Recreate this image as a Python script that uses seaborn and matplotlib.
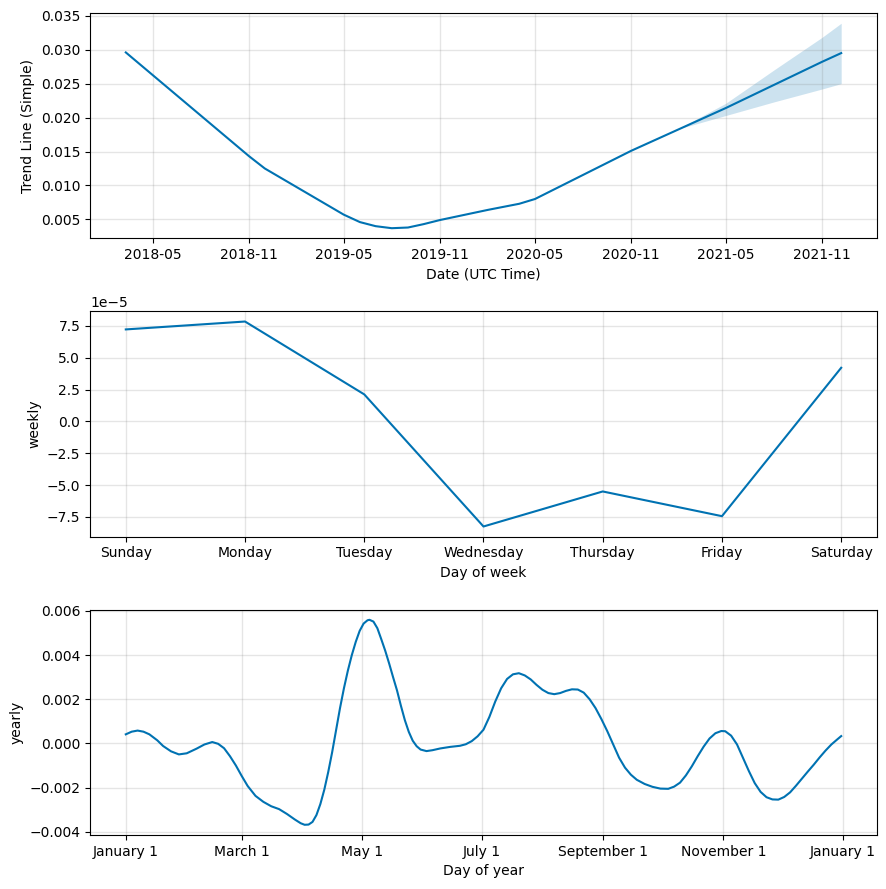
import pandas as pd
import numpy as np
import matplotlib
matplotlib.use("Agg")
import matplotlib.pyplot as plt
import matplotlib.dates as mdates
import seaborn as sns

# trend component
trend_dates = ["2018-03-10", "2018-11-01", "2018-12-01", "2019-05-01", "2019-06-01",
               "2019-07-01", "2019-08-01", "2019-09-01", "2019-10-01", "2019-11-01",
               "2020-02-01", "2020-04-01", "2020-05-01", "2020-11-01",
               "2021-05-01", "2021-08-01", "2021-11-01", "2021-12-08"]
trend_vals = [0.0296, 0.0143, 0.0125, 0.0057, 0.0046,
              0.0040, 0.0037, 0.0038, 0.0043, 0.0049,
              0.0064, 0.0073, 0.0080, 0.0151,
              0.0214, 0.0248, 0.0282, 0.0295]

# forecast uncertainty band
band_dates = ["2021-01-29", "2021-05-01", "2021-08-01", "2021-11-01", "2021-12-08"]
band_upper = [0.0183, 0.0221, 0.0270, 0.0318, 0.0339]
band_lower = [0.0183, 0.0203, 0.0223, 0.0242, 0.0250]

# weekly component
week_days = ["Sunday", "Monday", "Tuesday", "Wednesday", "Thursday", "Friday", "Saturday"]
weekly_vals = [7.22e-5, 7.84e-5, 2.12e-5, -8.25e-5, -5.5e-5, -7.44e-5, 4.21e-5]

# yearly component (day offset from January 1, value)
year_days = [0, 3, 6, 9, 12, 16, 19, 23, 27, 31, 36, 40, 44, 47, 50, 53, 56, 59, 62, 66,
             70, 74, 78, 82, 86, 89, 91, 93, 95, 97, 99, 101, 103, 105, 107, 109, 111, 113,
             115, 117, 119, 121, 123, 124, 126, 128, 130, 132, 134, 136, 138, 140, 142, 144,
             146, 148, 150, 153, 156, 160, 165, 170, 173, 176,
             179, 182, 185, 188, 191, 194, 197, 200, 203, 206, 209, 212, 215, 218, 221, 224,
             227, 230, 233, 236, 239, 242, 245, 248, 251, 254, 257, 260, 264, 268, 272, 276,
             279, 282, 285, 288, 291, 294, 297, 300, 303, 305, 308, 311, 314, 317, 320, 323,
             326, 329, 332, 335, 338, 341, 344, 347, 350, 353, 356, 359, 362, 364]
yearly_vals = [0.00041, 0.00053, 0.00058, 0.00053, 0.00041, 0.00014, -0.00012, -0.00036,
               -0.00050, -0.00045, -0.00024, -0.00005, 0.00006, -0.00002, -0.00022, -0.00058,
               -0.00100, -0.00148, -0.00193, -0.00238, -0.00265, -0.00285, -0.00298, -0.00320,
               -0.00345, -0.00362, -0.00369, -0.00368, -0.00356, -0.00325, -0.00275, -0.00210,
               -0.00130, -0.00040, 0.00060, 0.00160, 0.00250, 0.00330,
               0.00400, 0.00460, 0.00510, 0.00543, 0.00558, 0.00560, 0.00552, 0.00522,
               0.00472, 0.00420, 0.00362, 0.00300, 0.00240, 0.00170, 0.00105, 0.00052,
               0.00012, -0.00013, -0.00028, -0.00035,
               -0.00031, -0.00023, -0.00016, -0.00011, -0.00004, 0.00010, 0.00032, 0.00062,
               0.00120, 0.00190, 0.00250, 0.00292, 0.00313, 0.00318, 0.00308, 0.00290,
               0.00265, 0.00243, 0.00228, 0.00223, 0.00228, 0.00238, 0.00245, 0.00244,
               0.00230, 0.00200, 0.00160, 0.00110, 0.00055, -0.00005, -0.00065, -0.00110,
               -0.00142, -0.00165, -0.00184, -0.00197, -0.00205, -0.00206, -0.00196, -0.00178,
               -0.00145, -0.00104, -0.00058, -0.00015, 0.00022, 0.00046, 0.00056, 0.00055,
               0.00035, -0.00005, -0.00065, -0.00125, -0.00180, -0.00220, -0.00244, -0.00254,
               -0.00255, -0.00243, -0.00222, -0.00192, -0.00160, -0.00128, -0.00097, -0.00064,
               -0.00033, -0.00005, 0.00018, 0.00033]

blue = "#0072B2"

df_trend = pd.DataFrame({"ds": pd.to_datetime(trend_dates), "trend": trend_vals})
df_band = pd.DataFrame({"ds": pd.to_datetime(band_dates), "upper": band_upper, "lower": band_lower})
df_week = pd.DataFrame({"day": np.arange(len(week_days)), "weekly": weekly_vals})
df_year = pd.DataFrame({"ds": pd.Timestamp("2017-01-01") + pd.to_timedelta(year_days, unit="D"),
                        "yearly": yearly_vals})

fig, axes = plt.subplots(3, 1, figsize=(8.86, 8.89), dpi=100, facecolor="w")

ax = axes[0]
sns.lineplot(data=df_trend, x="ds", y="trend", color=blue, ax=ax)
ax.fill_between(df_band["ds"], df_band["lower"], df_band["upper"], color=blue, alpha=0.2, lw=0)
ax.xaxis.set_major_locator(mdates.MonthLocator(bymonth=[5, 11]))
ax.xaxis.set_major_formatter(mdates.DateFormatter("%Y-%m"))
ax.set_xlabel("Date (UTC Time)")
ax.set_ylabel("Trend Line (Simple)")

ax = axes[1]
sns.lineplot(data=df_week, x="day", y="weekly", color=blue, ax=ax)
ax.set_xticks(range(len(week_days)))
ax.set_xticklabels(week_days)
ax.set_xlabel("Day of week")
ax.set_ylabel("weekly")

ax = axes[2]
sns.lineplot(data=df_year, x="ds", y="yearly", color=blue, ax=ax)
ax.xaxis.set_major_locator(mdates.MonthLocator(range(1, 13), bymonthday=1, interval=2))
ax.xaxis.set_major_formatter(mdates.DateFormatter("%B %-d"))
ax.set_xlabel("Day of year")
ax.set_ylabel("yearly")

for ax in axes:
    ax.grid(True, which="major", c="gray", ls="-", lw=1, alpha=0.2)

fig.subplots_adjust(left=0.1016, right=0.9898, top=0.9854, bottom=0.0607, hspace=0.323)
fig.savefig("out.png", dpi=100)
